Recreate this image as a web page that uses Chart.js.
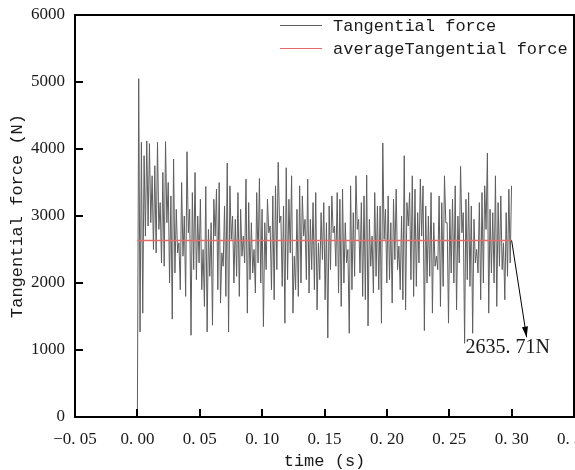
<!DOCTYPE html>
<html>
<head>
<meta charset="utf-8">
<script src="https://cdn.jsdelivr.net/npm/chart.js@4"></script>
<style>
  html, body { margin: 0; padding: 0; background: #fff; }
  #wrap { width: 575px; height: 470px; }
</style>
</head>
<body>
<div id="wrap"><canvas id="forceChart" width="575" height="470"></canvas></div>
<script>
// tangential force samples (N), one every sampleStep seconds starting at t = 0
const sampleStep = 0.001075;
const tangentialForce = [
  0,
  5050, 1270, 4100, 1550, 3900, 2700,
  4120, 2850, 4080, 2900, 3600, 2500,
  3750, 2450, 4100, 2800, 3200, 2300,
  3650, 2250, 4110, 2900, 3500, 2000,
  3300, 1460, 3850, 2150, 3100, 2450,
  2600, 1900, 3500, 2400, 3000, 1800,
  3960, 2750, 3100, 1220, 3350, 2200,
  3650, 2050, 3000, 2300, 3250, 1900,
  2500, 1650, 3440, 1270, 2800, 2100,
  2900, 1370, 3250, 2700, 3400, 1900,
  3500, 1700, 2450, 2250, 3150, 1800,
  3790, 1270, 3450, 2650, 3000, 2000,
  2950, 2100, 3350, 1800, 3100, 2400,
  2700, 2300, 3550, 1550, 3200, 2050,
  2900, 2150, 2500, 1850, 3350, 2300,
  3560, 2000, 3100, 1350, 2900, 2200,
  3250, 2750, 2850, 1900, 3300, 1750,
  3450, 2200, 3800, 2900, 3000, 1950,
  3150, 1400, 3720, 2050, 3250, 2450,
  3600, 1550, 2400, 1900, 3100, 1800,
  3450, 2000, 3300, 2700, 2950, 2050,
  3550, 1850, 2950, 2200, 3200, 1900,
  3350, 1600, 2600, 2050, 3050, 2350,
  3200, 1750, 2900, 1180, 3150, 2200,
  3300, 2750, 2850, 2250, 3350, 1850,
  3250, 1650, 3400, 2000, 2900, 2300,
  2500, 1250, 3450, 1900, 3050, 2100,
  3600, 2800, 2950, 2150, 3200, 1800,
  3300, 1750, 3610, 1360, 2950, 2250,
  2700, 1850, 3350, 2100, 3150, 1900,
  3150, 1400, 4090, 2650, 3100, 2000,
  3300, 2050, 2900, 1700, 3250, 2350,
  3400, 2200, 2550, 1900, 3000, 1750,
  3900, 1600, 3200, 2850, 3350, 2050,
  3600, 1800, 3400, 1950, 3050, 2300,
  3550, 2700, 3450, 1290, 3150, 2000,
  3000, 2100, 3350, 1550, 2900, 2250,
  2400, 2200, 3300, 1650, 3200, 1950,
  3600, 2900, 2900, 1400, 3100, 2150,
  3250, 2000, 3450, 1600, 3000, 2300,
  3740, 2750, 3050, 1100, 3250, 2050,
  3350, 1950, 3150, 1250, 2950, 2300,
  2500, 2150, 3200, 1750, 3350, 2000,
  3450, 2800, 3940, 1550, 3100, 2150,
  3050, 2000, 3600, 1650, 3200, 2250,
  3300, 2200, 2600, 1750, 3050, 2100,
  3400, 2300,
  3450
];

// mean force and where its callout points
const averageForce = 2635.71;
const averageSpan = [0, 0.30];
const arrowTip = [0.312, 1190];
const calloutAt = [0.263, 1030];

const xTicks = { min: -0.05, max: 0.35, step: 0.05 };
const yTicks = { min: 0, max: 6000, step: 1000 };

const forcePoints = tangentialForce.map((f, i) => ({ x: i * sampleStep, y: f }));
const averagePoints = averageSpan.map(t => ({ x: t, y: averageForce }));

const monoFont = '"Liberation Mono", "DejaVu Sans Mono", monospace';
const serifFont = '"Liberation Serif", "DejaVu Serif", serif';

function fmtX(v) {
  const s = Math.abs(v).toFixed(2).replace('.', '. ');
  return (v < -1e-9 ? '\u2212' : '') + s;
}

// frame, inward ticks, legend and the value callout
const decorations = {
  id: 'decorations',
  afterDraw(chart) {
    const { ctx, chartArea: a, scales: { x, y } } = chart;
    ctx.save();
    ctx.strokeStyle = '#000';
    ctx.lineWidth = 2;
    ctx.strokeRect(a.left, a.top, a.right - a.left, a.bottom - a.top);

    ctx.beginPath();
    for (let v = yTicks.min + yTicks.step; v < yTicks.max; v += yTicks.step) {
      const py = Math.round(y.getPixelForValue(v));
      ctx.moveTo(a.left, py);
      ctx.lineTo(a.left + 8, py);
    }
    for (let v = xTicks.min + xTicks.step; v < xTicks.max - 1e-9; v += xTicks.step) {
      const px = Math.round(x.getPixelForValue(v));
      ctx.moveTo(px, a.bottom);
      ctx.lineTo(px, a.bottom - 8);
    }
    ctx.stroke();

    // legend
    ctx.font = '17px ' + monoFont;
    ctx.textBaseline = 'middle';
    ctx.textAlign = 'left';
    chart.data.datasets.forEach((ds, i) => {
      const ly = 25 + i * 23;
      ctx.strokeStyle = ds.borderColor;
      ctx.lineWidth = 1;
      ctx.beginPath();
      ctx.moveTo(280, ly + 0.5);
      ctx.lineTo(322, ly + 0.5);
      ctx.stroke();
      ctx.fillStyle = '#1a1a1a';
      ctx.fillText(ds.label, 333, ly + 1);
    });

    // arrow from the end of the mean line to the callout
    const x0 = x.getPixelForValue(averageSpan[1]);
    const y0 = y.getPixelForValue(averageForce);
    const x1 = x.getPixelForValue(arrowTip[0]);
    const y1 = y.getPixelForValue(arrowTip[1]);
    ctx.strokeStyle = '#000';
    ctx.fillStyle = '#000';
    ctx.lineWidth = 1;
    ctx.beginPath();
    ctx.moveTo(x0, y0);
    ctx.lineTo(x1, y1);
    ctx.stroke();
    const ang = Math.atan2(y1 - y0, x1 - x0);
    ctx.beginPath();
    ctx.moveTo(x1, y1);
    ctx.lineTo(x1 - 11 * Math.cos(ang - 0.28), y1 - 11 * Math.sin(ang - 0.28));
    ctx.lineTo(x1 - 11 * Math.cos(ang + 0.28), y1 - 11 * Math.sin(ang + 0.28));
    ctx.closePath();
    ctx.fill();

    ctx.font = '20px ' + serifFont;
    ctx.fillStyle = '#1a1a1a';
    ctx.textBaseline = 'middle';
    ctx.fillText(averageForce.toFixed(2).replace('.', '. ') + 'N',
      x.getPixelForValue(calloutAt[0]), y.getPixelForValue(calloutAt[1]));
    ctx.restore();
  }
};

new Chart(document.getElementById('forceChart'), {
  type: 'line',
  data: {
    datasets: [
      {
        label: 'Tangential force',
        data: forcePoints,
        borderColor: '#5e5e5e',
        borderWidth: 1,
        pointRadius: 0,
        tension: 0,
        order: 1
      },
      {
        label: 'averageTangential force',
        data: averagePoints,
        borderColor: '#e36b6b',
        borderWidth: 1.5,
        pointRadius: 0,
        order: 0
      }
    ]
  },
  options: {
    responsive: false,
    animation: false,
    devicePixelRatio: 1,
    layout: { padding: { top: 15, right: 1, left: 0, bottom: 0 } },
    plugins: { legend: { display: false }, tooltip: { enabled: false } },
    scales: {
      x: {
        type: 'linear',
        min: xTicks.min,
        max: xTicks.max,
        grid: { display: false, drawTicks: false },
        border: { display: false },
        ticks: {
          stepSize: xTicks.step,
          padding: 12,
          maxRotation: 0,
          autoSkip: false,
          color: '#1a1a1a',
          font: { family: serifFont, size: 17 },
          callback: v => fmtX(v)
        },
        title: {
          display: true,
          text: 'time (s)',
          color: '#1a1a1a',
          font: { family: monoFont, size: 17, lineHeight: 1 },
          padding: 0
        },
        afterFit(s) { s.height = 53; s.paddingLeft = 0; s.paddingRight = 0; }
      },
      y: {
        min: yTicks.min,
        max: yTicks.max,
        grid: { display: false, drawTicks: false },
        border: { display: false },
        ticks: {
          stepSize: yTicks.step,
          padding: 10,
          color: '#1a1a1a',
          font: { family: serifFont, size: 17 },
          callback: v => String(v)
        },
        title: {
          display: true,
          text: 'Tangential force (N)',
          color: '#1a1a1a',
          font: { family: monoFont, size: 17, lineHeight: 1 },
          padding: { top: 9, bottom: 0 }
        },
        afterFit(s) { s.width = 75; s.paddingTop = 0; s.paddingBottom = 0; }
      }
    }
  },
  plugins: [decorations]
});
</script>
</body>
</html>
